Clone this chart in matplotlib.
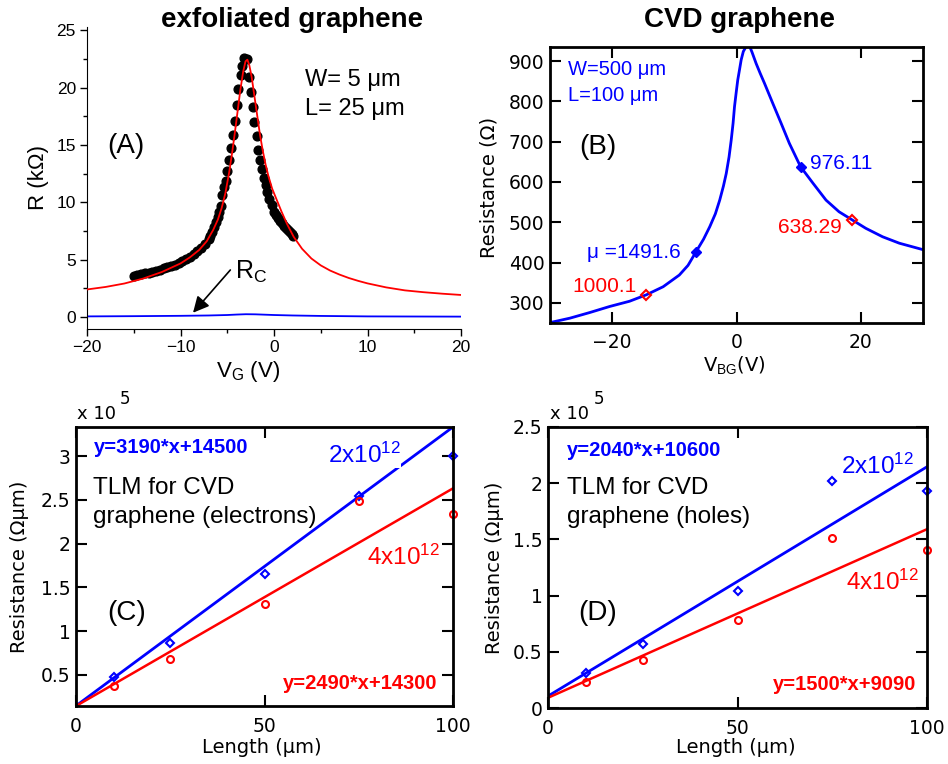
import matplotlib
matplotlib.use("Agg")
import matplotlib.pyplot as plt

plt.rcParams['font.family'] = ['DejaVu Sans']
plt.rcParams['mathtext.fontset'] = 'custom'
plt.rcParams['mathtext.rm'] = 'Liberation Sans'
plt.rcParams['mathtext.it'] = 'Liberation Sans:italic'
plt.rcParams['mathtext.bf'] = 'Liberation Sans:bold'
ARIAL = 'Liberation Sans'

# ---- panel A : exfoliated graphene ----
dot_v = [-15.0, -14.6, -14.2, -13.8, -13.4, -13.0, -12.6, -12.2, -11.8, -11.4,
         -11.0, -10.6, -10.2, -9.8, -9.4, -9.0, -8.6, -8.2, -7.8, -7.4,
         -7.0, -6.8, -6.6, -6.4, -6.2, -6.0, -5.85, -5.7, -5.53, -5.35,
         -5.17, -4.99, -4.8, -4.63, -4.42, -4.2, -3.99, -3.81, -3.56, -3.38,
         -3.21, -2.92, -2.64, -2.42, -2.25, -2.1, -1.85, -1.67, -1.46, -1.28,
         -1.07, -0.89, -0.71, -0.5, -0.25, 0.03, 0.2, 0.39, 0.6, 0.82,
         1.05, 1.28, 1.5, 1.71, 1.9, 2.07]
dot_r = [3.60, 3.66, 3.73, 3.80, 3.87, 3.94, 4.03, 4.13, 4.23, 4.34,
         4.45, 4.57, 4.71, 4.87, 5.04, 5.24, 5.46, 5.72, 6.02, 6.38,
         6.80, 7.10, 7.45, 7.82, 8.25, 8.75, 9.2, 9.7, 10.6, 11.3,
         11.9, 12.7, 13.7, 14.7, 15.9, 17.1, 18.5, 19.9, 21.1, 21.9,
         22.6, 22.5, 20.9, 19.6, 18.3, 17.0, 15.8, 14.6, 13.7, 12.9,
         12.15, 11.5, 10.9, 10.3, 9.76, 9.17, 8.9, 8.6, 8.38, 8.16,
         7.94, 7.73, 7.55, 7.38, 7.22, 7.08]

fit_v = [-20, -18, -16, -14, -12, -10, -9, -8, -7.2, -6.5, -6.0, -5.6, -5.2,
         -4.8, -4.5, -4.2, -3.9, -3.6, -3.3, -3.05, -2.85, -2.65, -2.4, -2.1,
         -1.8, -1.5, -1.2, -0.9, -0.6, -0.2, 0.3, 0.8, 1.4, 2.1, 3.0, 4.0,
         5.0, 6.0, 7.0, 8.0, 9.0, 10, 12, 14, 16, 18, 20]
fit_r = [2.40, 2.62, 2.92, 3.35, 3.92, 4.67, 5.2, 5.85, 6.6, 7.6, 8.5, 9.5, 10.8,
         12.6, 14.2, 16.0, 17.9, 19.8, 21.4, 22.3, 22.45, 22.0, 21.0, 19.3,
         17.6, 15.9, 14.5, 13.3, 12.3, 11.2, 10.2, 9.2, 8.1, 7.0, 5.95, 5.1,
         4.5, 4.05, 3.7, 3.4, 3.15, 2.93, 2.58, 2.32, 2.16, 2.03, 1.92]

rc_v = [-20, -15, -10, -7, -5, -4, -3, -2, -1, 0, 2, 5, 10, 15, 20]
rc_r = [0.05, 0.07, 0.1, 0.13, 0.17, 0.21, 0.24, 0.23, 0.2, 0.17, 0.13, 0.09, 0.05, 0.04, 0.03]

# ---- panel B : CVD graphene ----
b_v = [-30, -26.8, -23.6, -20.4, -17.2, -14.5, -11.8, -9.2, -7.8, -6.5, -5.3, -4.3,
       -3.4, -2.7, -2.1, -1.65, -1.2, -0.85, -0.55, -0.32, -0.05, 0.2, 0.5, 0.75,
       1.1, 1.55, 2.0, 2.5, 3.16, 3.8, 4.5, 5.84, 7.17, 8.5,
       10.3, 12.3, 14.4, 16.5, 18.6, 20.8, 23.5, 26.2, 30]
b_r = [251, 262, 276, 291, 304, 320, 340, 369, 393, 427, 458, 489,
       521, 555, 590, 621, 662, 704, 746, 787, 822, 853, 880, 903,
       924, 936, 941, 922, 894, 870, 845, 795, 746, 696,
       638, 597, 555, 526, 506, 485, 464, 448, 432]
b_red_v = [-14.5, 18.6]
b_red_r = [320, 506]
b_blue_v = [-6.5, 10.3]
b_blue_r = [427, 638]

# ---- panels C / D : TLM ----
length = [10, 25, 50, 75, 100]
c_blue = [0.47e5, 0.86e5, 1.65e5, 2.54e5, 3.0e5]
c_red = [0.37e5, 0.68e5, 1.31e5, 2.49e5, 2.34e5]
d_blue = [0.31e5, 0.57e5, 1.04e5, 2.02e5, 1.93e5]
d_red = [0.23e5, 0.43e5, 0.78e5, 1.51e5, 1.41e5]
fit_len = [0, 100]
c_fit_blue = [14500, 333500]
c_fit_red = [14300, 263300]
d_fit_blue = [10600, 214600]
d_fit_red = [9090, 159090]

W, H = 948, 764
fig = plt.figure(figsize=(W / 100, H / 100), dpi=100)


def box(l, t, r, b):
    return [l / W, 1 - b / H, (r - l) / W, (b - t) / H]


# ================= A =================
axA = fig.add_axes(box(87, 27, 461, 329))
axA.plot(dot_v, dot_r, 'o', color='black', ms=6.3, mec='black', zorder=2)
axA.plot(fit_v, fit_r, color='red', lw=1.3, zorder=3)
axA.plot(rc_v, rc_r, color='blue', lw=1.3)
axA.set_xlim(-20, 20)
axA.set_ylim(-1.05, 25.3)
axA.set_xticks([-20, -10, 0, 10, 20])
axA.set_xticks([-15, -5, 5, 15], minor=True)
axA.set_yticks([0, 5, 10, 15, 20, 25])
axA.set_yticks([2.5, 7.5, 12.5, 17.5, 22.5], minor=True)
axA.spines['top'].set_visible(False)
axA.spines['right'].set_visible(False)
axA.tick_params(which='both', direction='out', width=1, labelsize=12.5, pad=3)
axA.tick_params(which='major', length=5)
axA.tick_params(which='minor', length=3)
for lab in axA.get_xticklabels() + axA.get_yticklabels():
    lab.set_family(ARIAL)
axA.set_ylabel('R (kΩ)', family=ARIAL, fontsize=16)
axA.yaxis.set_label_coords(-0.131, 0.503)
axA.yaxis.label.set_va('center')
axA.set_xlabel('V$_{\\mathrm{G}}$ (V)', family=ARIAL, fontsize=16)
axA.xaxis.set_label_coords(0.43, -0.142)
axA.xaxis.label.set_va('center')
axA.text(0.104, 0.606, '(A)', transform=axA.transAxes, family=ARIAL, fontsize=20,
         ha='center', va='center')
axA.text(0.583, 0.825, 'W= 5 μm', transform=axA.transAxes, family=ARIAL, fontsize=17,
         va='center')
axA.text(0.583, 0.728, 'L= 25 μm', transform=axA.transAxes, family=ARIAL, fontsize=17,
         va='center')
axA.annotate('', xy=(-8.66, 0.37), xytext=(-4.67, 4.1),
             arrowprops=dict(arrowstyle='-|>', color='black', lw=1.2,
                             mutation_scale=24, shrinkA=0, shrinkB=0))
axA.text(-4.17, 3.31, 'R$_{\\mathrm{C}}$', family=ARIAL, fontsize=18, va='baseline')
fig.text(292 / W, 1 - 20 / H, 'exfoliated graphene', family=ARIAL, fontsize=20,
         fontweight='bold', ha='center', va='center')

# ================= B =================
axB = fig.add_axes(box(550, 47, 923, 323))
axB.plot(b_v, b_r, color='blue', lw=2)
axB.plot(b_blue_v, b_blue_r, 'D', color='blue', ms=5, mfc='blue', mec='blue')
axB.plot(b_red_v, b_red_r, 'D', ms=5, mfc='none', mec='red', mew=1.5)
axB.set_xlim(-30, 30)
axB.set_ylim(250, 935)
axB.set_xticks([-20, 0, 20])
axB.set_yticks([300, 400, 500, 600, 700, 800, 900])
axB.tick_params(direction='in', top=True, right=True, length=8, width=1.5,
                labelsize=13.5)
axB.tick_params(axis='x', pad=7)
axB.tick_params(axis='y', pad=4)
for s in axB.spines.values():
    s.set_linewidth(2)
axB.set_ylabel('Resistance (Ω)', fontsize=14)
axB.yaxis.set_label_coords(-0.164, 0.49)
axB.yaxis.label.set_va('center')
axB.set_xlabel('V$_{\\mathrm{BG}}$(V)', fontsize=14)
axB.xaxis.set_label_coords(0.493, -0.152)
axB.xaxis.label.set_va('center')
axB.text(0.048, 0.917, 'W=500 μm', transform=axB.transAxes, family=ARIAL,
         fontsize=14.5, color='blue', va='center')
axB.text(0.048, 0.826, 'L=100 μm', transform=axB.transAxes, family=ARIAL,
         fontsize=14.5, color='blue', va='center')
axB.text(0.078, 0.638, '(B)', transform=axB.transAxes, family=ARIAL, fontsize=20,
         va='center')
axB.text(11.9, 647, '976.11', family=ARIAL, fontsize=15, color='blue', va='center')
axB.text(17.0, 486, '638.29', family=ARIAL, fontsize=15, color='red', va='center',
         ha='right')
axB.text(-9.0, 426, 'μ =1491.6', family=ARIAL, fontsize=15, color='blue',
         va='center', ha='right')
axB.text(-16.1, 340, '1000.1', family=ARIAL, fontsize=15, color='red', va='center',
         ha='right')
fig.text(740 / W, 1 - 20 / H, 'CVD graphene', family=ARIAL, fontsize=20,
         fontweight='bold', ha='center', va='center')


# ================= C / D =================
def tlm(ax, blue, red, fblue, fred, ylim, yticks, ylabels):
    ax.plot(fit_len, fblue, color='blue', lw=2)
    ax.plot(fit_len, fred, color='red', lw=1.8)
    ax.plot(length, blue, 'D', ms=4.5, mfc='none', mec='blue', mew=1.5, clip_on=False)
    ax.plot(length, red, 'o', ms=5, mfc='none', mec='red', mew=1.5, clip_on=False)
    ax.set_xlim(0, 100)
    ax.set_ylim(*ylim)
    ax.set_xticks([0, 50, 100])
    ax.set_yticks(yticks)
    ax.set_yticklabels(ylabels)
    ax.tick_params(direction='in', top=True, right=True, length=8, width=1.5,
                   labelsize=13.5)
    ax.tick_params(axis='x', pad=8)
    ax.tick_params(axis='y', pad=4)
    for s in ax.spines.values():
        s.set_linewidth(2)
    ax.set_ylabel('Resistance (Ωμm)', fontsize=14)
    ax.yaxis.label.set_va('center')
    ax.set_xlabel('Length (μm)', fontsize=14)
    ax.xaxis.label.set_va('center')


axC = fig.add_axes(box(76, 427, 453, 706))
tlm(axC, c_blue, c_red, c_fit_blue, c_fit_red, (14300, 333500),
    [0.5e5, 1e5, 1.5e5, 2e5, 2.5e5, 3e5], ['0.5', '1', '1.5', '2', '2.5', '3'])
axC.yaxis.set_label_coords(-0.149, 0.498)
axC.xaxis.set_label_coords(0.493, -0.15)
axC.text(0.048, 0.925, 'y=3190*x+14500', transform=axC.transAxes, family=ARIAL,
         fontsize=14.5, fontweight='bold', color='blue', va='center')
axC.text(0.045, 0.781, 'TLM for CVD', transform=axC.transAxes, family=ARIAL,
         fontsize=17.5, va='center')
axC.text(0.045, 0.677, 'graphene (electrons)', transform=axC.transAxes, family=ARIAL,
         fontsize=17.5, va='center')
axC.text(0.668, 0.9, '2x10$^{12}$', transform=axC.transAxes, family=ARIAL,
         fontsize=17.5, color='blue', va='center',
         bbox=dict(facecolor='white', edgecolor='none', pad=0))
axC.text(0.772, 0.534, '4x10$^{12}$', transform=axC.transAxes, family=ARIAL,
         fontsize=17.5, color='red', va='center')
axC.text(0.958, 0.079, 'y=2490*x+14300', transform=axC.transAxes, family=ARIAL,
         fontsize=14.5, fontweight='bold', color='red', va='center', ha='right')
axC.text(0.082, 0.333, '(C)', transform=axC.transAxes, family=ARIAL, fontsize=20,
         va='center')
fig.text(77 / W, 1 - 414 / H, 'x 10', fontsize=13, va='center')
fig.text(120 / W, 1 - 399 / H, '5', fontsize=12, va='center')

axD = fig.add_axes(box(548, 427, 927, 708))
tlm(axD, d_blue, d_red, d_fit_blue, d_fit_red, (0, 2.5e5),
    [0, 0.5e5, 1e5, 1.5e5, 2e5, 2.5e5], ['0', '0.5', '1', '1.5', '2', '2.5'])
axD.yaxis.set_label_coords(-0.142, 0.5)
axD.xaxis.set_label_coords(0.496, -0.142)
axD.text(0.05, 0.915, 'y=2040*x+10600', transform=axD.transAxes, family=ARIAL,
         fontsize=14.5, fontweight='bold', color='blue', va='center')
axD.text(0.05, 0.783, 'TLM for CVD', transform=axD.transAxes, family=ARIAL,
         fontsize=17.5, va='center')
axD.text(0.05, 0.68, 'graphene (holes)', transform=axD.transAxes, family=ARIAL,
         fontsize=17.5, va='center')
axD.text(0.773, 0.861, '2x10$^{12}$', transform=axD.transAxes, family=ARIAL,
         fontsize=17.5, color='blue', va='center')
axD.text(0.786, 0.448, '4x10$^{12}$', transform=axD.transAxes, family=ARIAL,
         fontsize=17.5, color='red', va='center')
axD.text(0.971, 0.082, 'y=1500*x+9090', transform=axD.transAxes, family=ARIAL,
         fontsize=14.5, fontweight='bold', color='red', va='center', ha='right')
axD.text(0.079, 0.338, '(D)', transform=axD.transAxes, family=ARIAL, fontsize=20,
         va='center')
fig.text(550 / W, 1 - 414 / H, 'x 10', fontsize=13, va='center')
fig.text(594 / W, 1 - 399 / H, '5', fontsize=12, va='center')

fig.savefig('out.png', dpi=100)
